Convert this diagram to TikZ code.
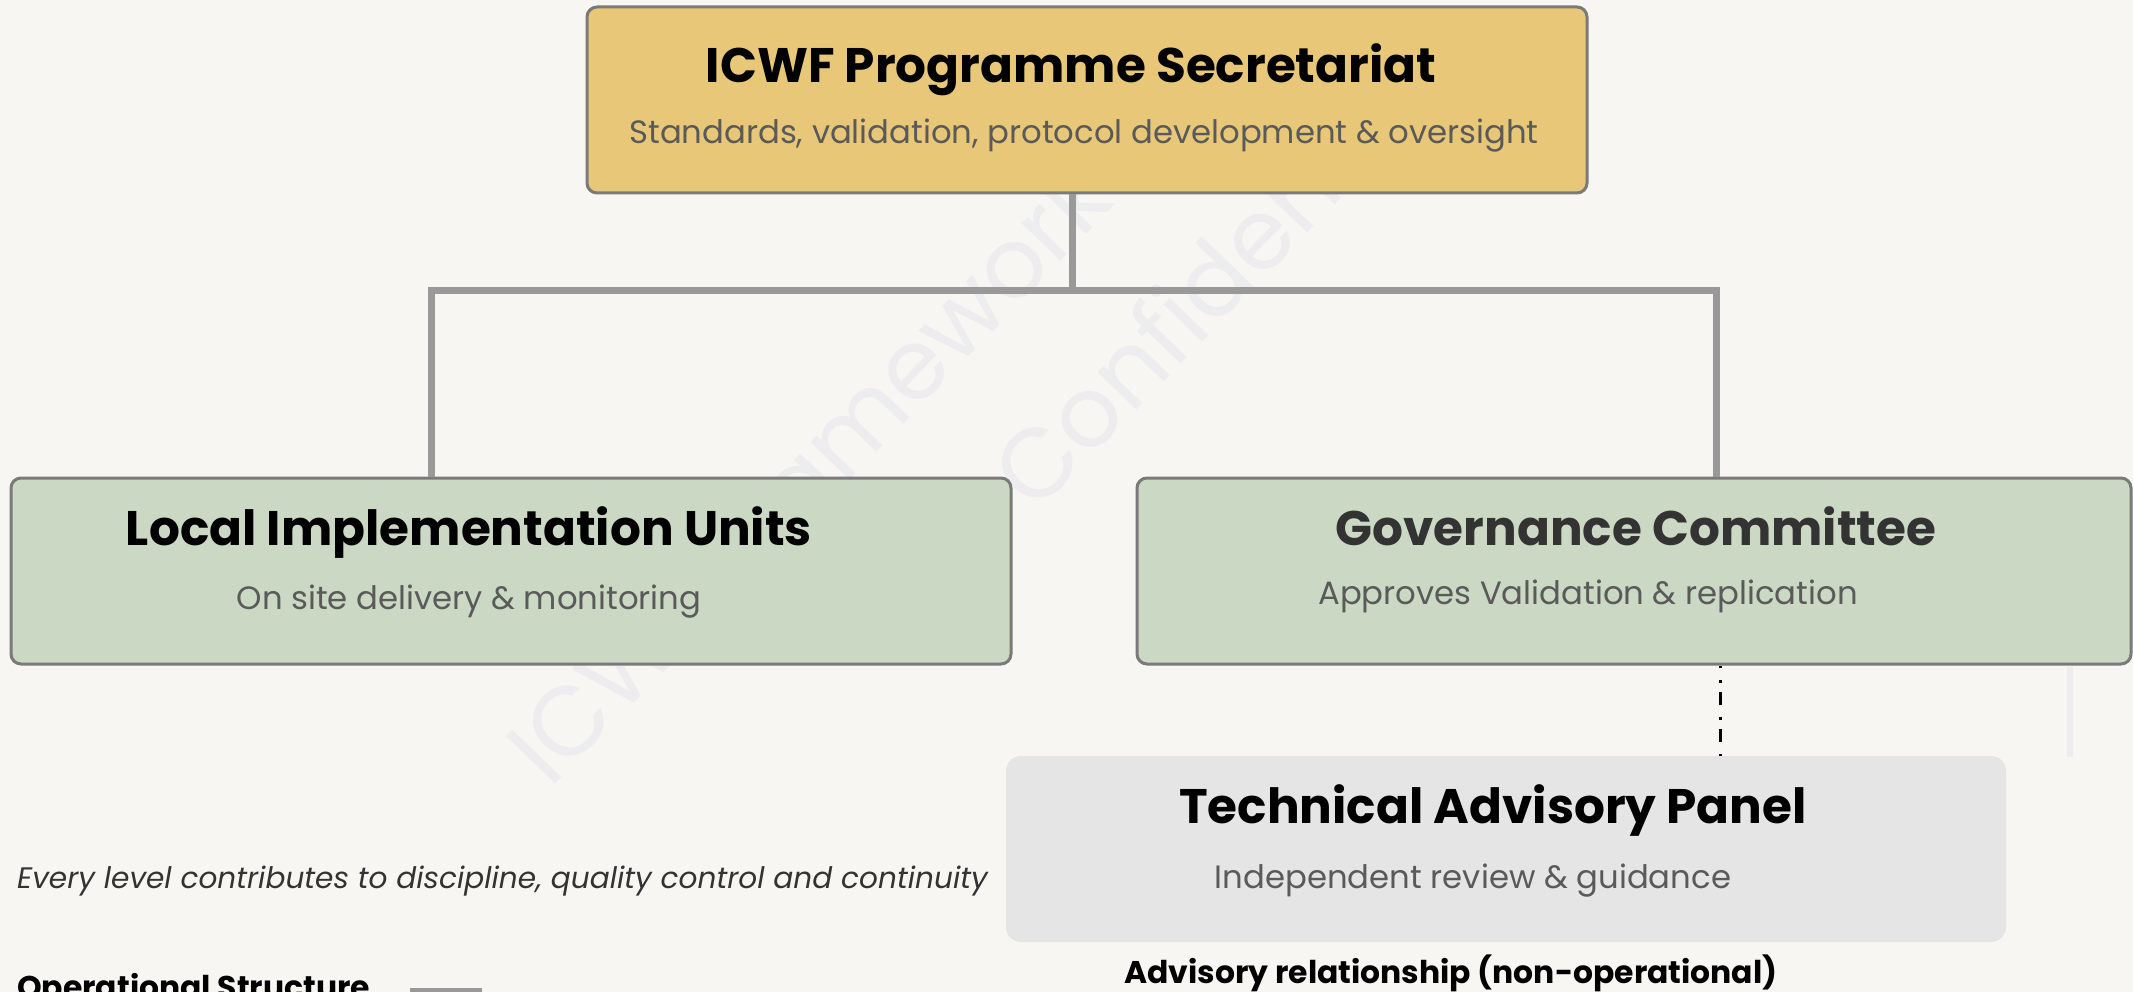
\documentclass[tikz,border=0pt]{standalone}
\usepackage{fontspec}
\setmainfont{Poppins}
\definecolor{bg}{HTML}{F7F6F2}
\definecolor{gold}{HTML}{E8C878}
\definecolor{sage}{HTML}{CBD8C4}
\definecolor{panel}{HTML}{E5E5E5}
\definecolor{edge}{HTML}{7A7A7A}
\definecolor{link}{HTML}{999999}
\definecolor{subtxt}{HTML}{5A5A5A}
\definecolor{darktxt}{HTML}{333333}
\definecolor{wmark}{HTML}{EDEDEF}
\tikzset{
  box/.style={draw=edge, line width=3pt, rounded corners=10pt, inner sep=0pt},
  ttl/.style={anchor=base, inner sep=0pt, font=\fontsize{48.5}{58}\selectfont\bfseries, text=black},
  sub/.style={anchor=base, inner sep=0pt, font=\fontsize{32.3}{39}\selectfont, text=subtxt},
  legend/.style={inner sep=0pt, font=\fontsize{31.4}{38}\selectfont\bfseries, text=black},
  conn/.style={draw=link, line width=7pt, line join=miter},
  advis/.style={draw=black, line width=3pt, dash pattern=on 13pt off 12pt on 3pt off 9pt, dash phase=11pt},
  wm/.style={anchor=base west, inner sep=0pt, rotate=46, font=\fontsize{98}{110}\selectfont, text=wmark}
}
\begin{document}
\begin{tikzpicture}[x=1pt,y=-1pt]
\useasboundingbox (0,0) rectangle (2133,992);
\fill[bg] (0,0) rectangle (2133,992);
% watermark
\node[wm] (wm1) at (550,790) {ICWF Framework |};
\node[wm] (wm2) at (1035,515) {Confidential};
\draw[wmark, line width=6pt] (2070,667) -- (2070,757);
% boxes
\node[box, fill=gold, minimum width=1000pt, minimum height=186pt] (sec) at (1087,100) {};
\node[box, fill=sage, minimum width=1000pt, minimum height=186pt] (lu) at (511,571) {};
\node[box, fill=sage, minimum width=994pt, minimum height=186pt] (gov) at (1634,571) {};
\node[fill=panel, rounded corners=15pt, inner sep=0pt, minimum width=1000pt, minimum height=186pt] (tap) at (1506,849) {};
% texts
\node[ttl] (secT) at (1071,83) {ICWF Programme Secretariat};
\node[sub] (secS) at (1084,144) {Standards, validation, protocol development \& oversight};
\node[ttl] (luT) at (469,545) {Local Implementation Units};
\node[sub] (luS) at (469,609) {On site delivery \& monitoring};
\node[ttl, text=darktxt] (govT) at (1636,545) {Governance Committee};
\node[sub] (govS) at (1588,604) {Approves Validation \& replication};
\node[ttl] (tapT) at (1493,823) {Technical Advisory Panel};
\node[sub] (tapS) at (1473,888) {Independent review \& guidance};
\node[anchor=base west, inner sep=0pt, font=\fontsize{29.6}{36}\selectfont\itshape, text=darktxt] (note) at (17,888) {Every level contributes to discipline, quality control and continuity};
\node[legend, anchor=base west] (legOp) at (17,998) {Operational Structure};
\node[legend, anchor=base] (legAd) at (1451,983) {Advisory relationship (non-operational)};
\draw[link, line width=7pt] (410,991) -- (482,991);
% connectors
\coordinate (bus) at (1072,291);
\draw[conn] ([xshift=-15pt]sec.south) -- ([xshift=-15pt]sec.south |- bus);
\draw[conn] ([xshift=-80pt]lu.north) |- ([xshift=82pt]gov.north |- bus) -- ([xshift=82pt]gov.north);
\draw[advis] ([xshift=86pt]gov.south) -- ([xshift=86pt]gov.south |- tap.north);
\end{tikzpicture}
\end{document}
